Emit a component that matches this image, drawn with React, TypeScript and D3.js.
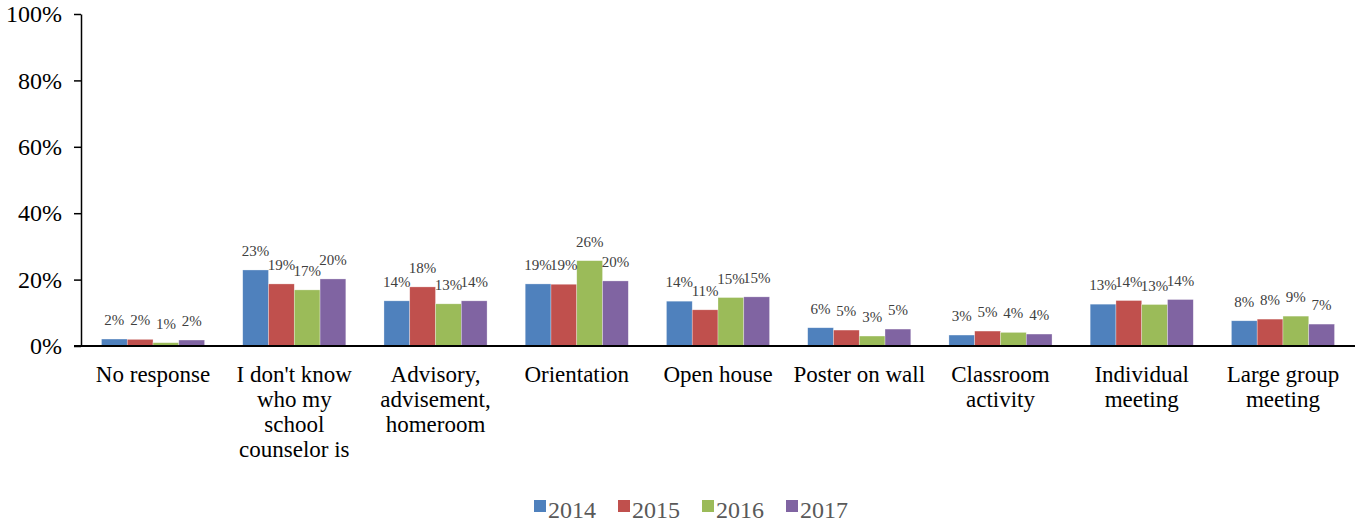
import React, { useRef, useEffect } from "react";
import * as d3 from "d3";

// categories (line-broken as on the axis)
const categories: string[][] = [
  ["No response"],
  ["I don't know", "who my", "school", "counselor is"],
  ["Advisory,", "advisement,", "homeroom"],
  ["Orientation"],
  ["Open house"],
  ["Poster on wall"],
  ["Classroom", "activity"],
  ["Individual", "meeting"],
  ["Large group", "meeting"],
];

const years = ["2014", "2015", "2016", "2017"];
const colors = ["#4F81BD", "#C0504D", "#9BBB59", "#8064A2"];

// percent values per year, one per category
const v2014 = [2.1, 22.9, 13.6, 18.7, 13.5, 5.5, 3.3, 12.6, 7.6];
const v2015 = [2.0, 18.7, 17.8, 18.6, 10.9, 4.8, 4.5, 13.7, 8.1];
const v2016 = [1.0, 16.9, 12.7, 25.7, 14.6, 3.0, 4.1, 12.5, 9.0];
const v2017 = [1.8, 20.2, 13.6, 19.6, 14.8, 5.1, 3.6, 14.0, 6.6];
const series = [v2014, v2015, v2016, v2017];

const yTicks = [0, 20, 40, 60, 80, 100];

const App = () => {
  const ref = useRef<SVGSVGElement>(null);

  useEffect(() => {
    const width = 1362;
    const height = 523;
    const marginLeft = 81;
    const marginRight = 7;
    const marginTop = 14;
    const baseY = 346;
    const font = "'Liberation Serif', 'Times New Roman', serif";

    const svg = d3.select(ref.current);
    svg.selectAll("*").remove();

    const x0 = d3
      .scaleBand()
      .domain(categories.map((_, i) => String(i)))
      .range([marginLeft, width - marginRight])
      .paddingInner(0.27)
      .paddingOuter(0.145);

    const x1 = d3
      .scaleBand()
      .domain(years)
      .range([0, x0.bandwidth()]);

    const y = d3.scaleLinear().domain([0, 100]).range([baseY, marginTop]);

    // bars
    const groups = svg
      .append("g")
      .selectAll("g")
      .data(categories)
      .join("g")
      .attr("transform", (_, i) => `translate(${x0(String(i))},0)`);

    groups
      .selectAll("rect")
      .data((_, i) => years.map((yr, s) => ({ yr, s, v: series[s][i] })))
      .join("rect")
      .attr("x", (d) => x1(d.yr)!)
      .attr("y", (d) => y(d.v))
      .attr("width", x1.bandwidth())
      .attr("height", (d) => baseY - y(d.v))
      .attr("fill", (d) => colors[d.s])
      .attr("stroke", "#ffffff")
      .attr("stroke-opacity", 0.5)
      .attr("stroke-width", 0.6);

    // value labels
    groups
      .selectAll("text")
      .data((_, i) => years.map((yr, s) => ({ yr, s, v: series[s][i] })))
      .join("text")
      .attr("x", (d) => x1(d.yr)! + x1.bandwidth() / 2)
      .attr("y", (d) => y(d.v) - 14)
      .attr("text-anchor", "middle")
      .attr("font-family", font)
      .attr("font-size", 15)
      .attr("fill", "#404040")
      .text((d) => `${Math.round(d.v)}%`);

    // y axis
    const yAxis = svg
      .append("g")
      .attr("transform", `translate(${marginLeft},0)`)
      .call(
        d3
          .axisLeft(y)
          .tickValues(yTicks)
          .tickSize(7)
          .tickSizeOuter(0)
          .tickPadding(12)
          .tickFormat((d) => `${d}%`)
      );
    yAxis.select(".domain").attr("stroke", "#000").attr("stroke-width", 1.5);
    yAxis.selectAll(".tick line").attr("stroke", "#000").attr("stroke-width", 1.5);
    yAxis
      .selectAll(".tick text")
      .attr("font-family", font)
      .attr("font-size", 24)
      .attr("fill", "#000");

    // x baseline
    svg
      .append("line")
      .attr("x1", marginLeft - 7)
      .attr("x2", width - marginRight)
      .attr("y1", baseY)
      .attr("y2", baseY)
      .attr("stroke", "#000")
      .attr("stroke-width", 2);

    // category labels
    const catText = svg
      .append("g")
      .selectAll("text")
      .data(categories)
      .join("text")
      .attr("x", (_, i) => x0(String(i))! + x0.bandwidth() / 2)
      .attr("y", baseY + 36)
      .attr("text-anchor", "middle")
      .attr("font-family", font)
      .attr("font-size", 23)
      .attr("fill", "#000");
    catText
      .selectAll("tspan")
      .data((d) => d)
      .join("tspan")
      .attr("x", function () {
        return (this.parentNode as SVGTextElement).getAttribute("x");
      })
      .attr("dy", (_, j) => (j === 0 ? 0 : 25))
      .text((d) => d);

    // legend
    const legendStart = 534;
    const legendStep = 84;
    const legend = svg
      .append("g")
      .selectAll("g")
      .data(years)
      .join("g")
      .attr("transform", (_, i) => `translate(${legendStart + i * legendStep},500)`);
    legend
      .append("rect")
      .attr("width", 12)
      .attr("height", 12)
      .attr("fill", (_, i) => colors[i]);
    legend
      .append("text")
      .attr("x", 14)
      .attr("y", 18)
      .attr("font-family", font)
      .attr("font-size", 24)
      .attr("fill", "#595959")
      .text((d) => d);
  }, []);

  return (
    <svg
      ref={ref}
      width={1362}
      height={523}
      style={{ position: "absolute", left: 0, top: 0, background: "#fff" }}
    />
  );
};

export default App;
